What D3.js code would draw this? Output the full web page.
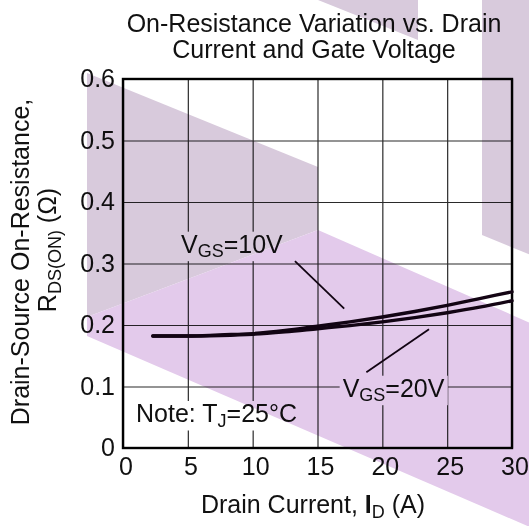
<!DOCTYPE html>
<html><head><meta charset="utf-8">
<script src="https://cdn.jsdelivr.net/npm/d3@7"></script>
<style>
html,body{margin:0;padding:0;background:#fff;}
svg{display:block;font-family:"Liberation Sans",Arial,Helvetica,sans-serif;}
</style>
</head><body>
<svg id="chart" width="529" height="526"></svg>
<script>
// ---- data ----
const drainCurrent = [2.3, 5, 7.5, 10, 12.5, 15, 17.5, 20, 22.5, 25, 27.5, 30];
const rdsVgs10 = [0.182, 0.182, 0.184, 0.186, 0.191, 0.198, 0.205, 0.213, 0.222, 0.232, 0.243, 0.254];
const rdsVgs20 = [0.182, 0.182, 0.183, 0.185, 0.189, 0.194, 0.199, 0.205, 0.212, 0.220, 0.229, 0.2395];
const xTickValues = [0, 5, 10, 15, 20, 25, 30];
const xTickLabels = ["0", "5", "10", "15", "20", "25", "30"];
const yTickValues = [0, 0.1, 0.2, 0.3, 0.4, 0.5, 0.6];
const yTickLabels = ["0", "0.1", "0.2", "0.3", "0.4", "0.5", "0.6"];
const seriesNames = ["10V", "20V"];
// annotation anchors (data units): label start [I, R], leader line [I1, R1, I2, R2]
const labelAnchors = [[4.47, 0.3176], [16.94, 0.0834]];
const leaderLines = [[13.26, 0.304, 17.06, 0.2265], [23.6, 0.193, 18.77, 0.123]];
const titleLines = ["On-Resistance Variation vs. Drain", "Current and Gate Voltage"];

// ---- layout ----
const W = 529, H = 526;
const M = {left: 123, right: 17, top: 79, bottom: 78};
const svg = d3.select("#chart");
svg.append("rect").attr("width", W).attr("height", H).attr("fill", "#fff");

const x = d3.scaleLinear().domain([0, 30]).range([M.left, W - M.right]);
const y = d3.scaleLinear().domain([0, 0.6]).range([H - M.bottom, M.top]);

const ink = "#111";
const fs = 25;

// gridlines
const grid = svg.append("g");
grid.append("g").attr("transform", `translate(0,${y(0)})`)
  .call(d3.axisBottom(x).tickValues(xTickValues).tickSize(-(y(0) - y(0.6))).tickFormat(""))
  .call(g => g.select(".domain").remove())
  .call(g => g.selectAll("line").attr("stroke", "#2a2a2a").attr("stroke-width", 1.2));
grid.append("g").attr("transform", `translate(${x(0)},0)`)
  .call(d3.axisLeft(y).tickValues(yTickValues).tickSize(-(x(30) - x(0))).tickFormat(""))
  .call(g => g.select(".domain").remove())
  .call(g => g.selectAll("line").attr("stroke", "#2a2a2a").attr("stroke-width", 1.2));

// helper: text with subscript
function subText(sel, parts, size) {
  const t = sel.append("text").attr("font-size", size).attr("fill", ink);
  parts.forEach(p => {
    const ts = t.append("tspan").text(p.t);
    if (p.sub) ts.attr("font-size", size * 0.72).attr("dy", size * 0.18);
    else if (p.after) ts.attr("dy", -size * 0.18);
    if (p.bold) ts.attr("font-weight", "bold");
  });
  return t;
}
function boxed(parent, parts, px, py, size) {
  const g = parent.append("g");
  const bg = g.append("rect").attr("fill", "#fff");
  const t = subText(g, parts, size).attr("x", px).attr("y", py);
  const b = t.node().getBBox();
  bg.attr("x", b.x - 3).attr("y", b.y + 2).attr("width", b.width + 6).attr("height", b.height - 2);
  return g;
}

// labels with white boxes (hide grid)
const ann = svg.append("g");
seriesNames.forEach((nm, i) => {
  boxed(ann, [{t: "V"}, {t: "GS", sub: true}, {t: "=" + nm, after: true}],
    x(labelAnchors[i][0]), y(labelAnchors[i][1]), fs);
});
boxed(ann, [{t: "Note: T"}, {t: "J", sub: true}, {t: "=25°C", after: true}],
  x(0) + 13, y(0) - 26, fs);

// frame
svg.append("rect").attr("x", x(0)).attr("y", y(0.6))
  .attr("width", x(30) - x(0)).attr("height", y(0) - y(0.6))
  .attr("fill", "none").attr("stroke", "#000").attr("stroke-width", 2.4);

// curves
const line = d3.line().x(d => x(d[0])).y(d => y(d[1])).curve(d3.curveMonotoneX);
[rdsVgs10, rdsVgs20].forEach(vals => {
  svg.append("path").datum(drainCurrent.map((c, i) => [c, vals[i]]))
    .attr("d", line).attr("fill", "none").attr("stroke", "#140514")
    .attr("stroke-width", 3.4).attr("stroke-linecap", "round");
});
// leader lines
leaderLines.forEach(l => {
  svg.append("line").attr("x1", x(l[0])).attr("y1", y(l[1]))
    .attr("x2", x(l[2])).attr("y2", y(l[3]))
    .attr("stroke", "#140514").attr("stroke-width", 1.8);
});

// tick labels
svg.append("g").selectAll("text").data(xTickValues).join("text")
  .attr("x", d => x(d) + 3).attr("y", y(0) + 27).attr("text-anchor", "middle")
  .attr("font-size", fs).attr("fill", ink).text((d, i) => xTickLabels[i]);
svg.append("g").selectAll("text").data(yTickValues).join("text")
  .attr("x", x(0) - 8).attr("y", d => y(d) + 8).attr("text-anchor", "end")
  .attr("font-size", fs).attr("fill", ink).text((d, i) => yTickLabels[i]);

// title
svg.append("g").selectAll("text").data(titleLines).join("text")
  .attr("x", 314).attr("y", (d, i) => 32 + i * 26).attr("text-anchor", "middle")
  .attr("font-size", fs).attr("fill", ink).text(d => d);

// x axis title
subText(svg, [{t: "Drain Current, "}, {t: "I", bold: true}, {t: "D", sub: true}, {t: " (A)", after: true}], fs)
  .attr("x", 313).attr("y", 513).attr("text-anchor", "middle");

// y axis title
const yt = svg.append("g").attr("transform", "rotate(-90)");
yt.append("text").attr("x", -262).attr("y", 29).attr("text-anchor", "middle")
  .attr("font-size", fs).attr("fill", ink).text("Drain-Source On-Resistance,");
subText(yt, [{t: "R"}, {t: "DS(ON)", sub: true}, {t: " (Ω)", after: true}], fs)
  .attr("x", -250).attr("y", 56).attr("text-anchor", "middle");

// watermark shapes (multiply blend)
const wm = svg.append("g").style("mix-blend-mode", "multiply");
const grayCol = "#d8cadc", purpleCol = "#e3caeb";
wm.append("polygon").attr("points", "87,73 318,167 318,230 87,317").attr("fill", grayCol);
wm.append("polygon").attr("points", "318,-20 418,-20 418,40 318,0").attr("fill", grayCol);
wm.append("polygon").attr("points", "482,-20 560,-20 560,267 482,235").attr("fill", grayCol);
wm.append("polygon").attr("points", "87,317 318,230 560,336 560,540 87,336").attr("fill", purpleCol);
</script>
</body></html>
